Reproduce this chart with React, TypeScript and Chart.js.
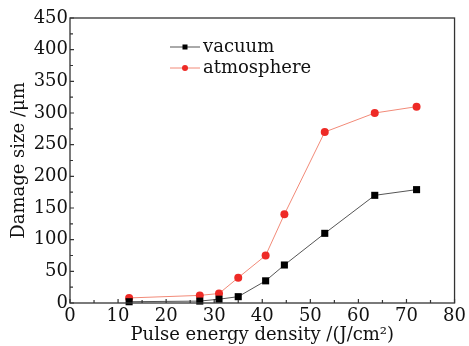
import React, { useEffect, useRef } from "react";
import { Chart, registerables } from "chart.js";

Chart.register(...registerables);

const energyDensity = [12.3, 27.0, 31.0, 35.0, 40.7, 44.6, 53.0, 63.4, 72.1];
const vacuumSize = [2, 3, 6, 10, 35, 60, 110, 170, 179];
const atmosphereSize = [8, 12, 15, 40, 75, 140, 270, 300, 310];
const seriesLabels = ["vacuum", "atmosphere"];
const xTitle = "Pulse energy density /(J/cm\u00B2)";
const yTitle = "Damage size /\u03BCm";

const FONT = "'DejaVu Serif', serif";

const framePlugin = {
  id: "frameTicks",
  afterDraw(chart: any) {
    const { ctx, chartArea: a, scales } = chart;
    ctx.save();
    ctx.strokeStyle = "#333";
    ctx.lineWidth = 1.3;
    ctx.strokeRect(a.left, a.top, a.right - a.left, a.bottom - a.top);
    ctx.lineWidth = 1.2;
    ctx.beginPath();
    for (let v = 0; v <= 80; v += 5) {
      const px = scales.x.getPixelForValue(v);
      const len = v % 10 === 0 ? 4 : 3;
      ctx.moveTo(px, a.bottom);
      ctx.lineTo(px, a.bottom - len);
    }
    for (let v = 0; v <= 450; v += 25) {
      const py = scales.y.getPixelForValue(v);
      const len = v % 50 === 0 ? 4 : 3;
      ctx.moveTo(a.left, py);
      ctx.lineTo(a.left + len, py);
    }
    ctx.stroke();

    // legend
    const rows = [
      { y: 47, ds: chart.data.datasets[0], rect: true },
      { y: 68, ds: chart.data.datasets[1], rect: false },
    ];
    ctx.font = `18px ${FONT}`;
    ctx.textBaseline = "middle";
    ctx.textAlign = "left";
    for (const r of rows) {
      ctx.strokeStyle = r.ds.borderColor;
      ctx.lineWidth = 1;
      ctx.beginPath();
      ctx.moveTo(170, r.y);
      ctx.lineTo(200, r.y);
      ctx.stroke();
      ctx.fillStyle = r.ds.pointBackgroundColor;
      if (r.rect) {
        ctx.fillRect(185 - 2.5, r.y - 2.5, 5, 5);
      } else {
        ctx.beginPath();
        ctx.arc(185, r.y, 3, 0, Math.PI * 2);
        ctx.fill();
      }
      ctx.fillStyle = "#111";
      ctx.fillText(r.ds.label, 203, r.y);
    }
    ctx.restore();
  },
};

export default function App() {
  const ref = useRef<HTMLCanvasElement>(null);
  useEffect(() => {
    document.body.style.margin = "0";
    const chart = new Chart(ref.current!, {
      type: "line",
      data: {
        datasets: [
          {
            label: seriesLabels[0],
            data: energyDensity.map((x, i) => ({ x, y: vacuumSize[i] })),
            borderColor: "#555",
            borderWidth: 1,
            pointStyle: "rect",
            pointRadius: 5,
            pointBackgroundColor: "#000",
            pointBorderColor: "#000",
            pointBorderWidth: 0,
            clip: false as any,
          },
          {
            label: seriesLabels[1],
            data: energyDensity.map((x, i) => ({ x, y: atmosphereSize[i] })),
            borderColor: "#f28a78",
            borderWidth: 1,
            pointStyle: "circle",
            pointRadius: 4,
            pointBackgroundColor: "#ee2a26",
            pointBorderColor: "#ee2a26",
            pointBorderWidth: 0,
            clip: false as any,
          },
        ],
      },
      options: {
        animation: false,
        responsive: false,
        layout: { padding: { top: 18, right: 9, left: 0, bottom: 0 } },
        plugins: { legend: { display: false }, tooltip: { enabled: false } },
        scales: {
          x: {
            type: "linear",
            min: 0,
            max: 80,
            grid: { display: false, drawTicks: false },
            border: { display: false },
            ticks: { stepSize: 10, color: "#111", font: { family: FONT, size: 18 }, padding: 3, maxRotation: 0 },
            title: { display: true, text: xTitle, color: "#111", font: { family: FONT, size: 18 }, padding: { top: 0, bottom: 0 } },
            afterFit: (s: any) => { s.height = 43; },
          },
          y: {
            min: 0,
            max: 450,
            grid: { display: false, drawTicks: false },
            border: { display: false },
            ticks: { stepSize: 50, color: "#111", font: { family: FONT, size: 18 }, padding: 2 },
            title: { display: true, text: yTitle, color: "#111", font: { family: FONT, size: 18 }, padding: { top: 9, bottom: 0 } },
            afterFit: (s: any) => { s.width = 70; },
          },
        },
      },
      plugins: [framePlugin],
    });
    return () => chart.destroy();
  }, []);
  return (
    <div style={{ width: 469, height: 346, background: "#fff" }}>
      <canvas ref={ref} width={469} height={346} />
    </div>
  );
}
